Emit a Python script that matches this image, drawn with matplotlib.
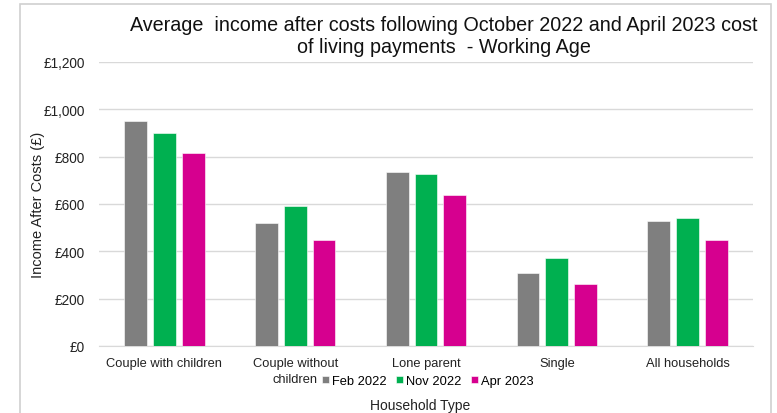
import matplotlib
matplotlib.use("Agg")
import matplotlib.pyplot as plt
import numpy as np
from matplotlib.patches import Rectangle
from matplotlib.ticker import FuncFormatter

categories = ["Couple with children", "Couple without\nchildren", "Lone parent", "Single", "All households"]
series_names = ["Feb 2022", "Nov 2022", "Apr 2023"]
feb_2022 = [950, 519, 735, 309, 529]
nov_2022 = [901, 591, 728, 372, 540]
apr_2023 = [814, 447, 637, 260, 447]
colors = ["#7F7F7F", "#00B050", "#D6008F"]

plt.rcParams['font.family'] = ['Liberation Sans', 'DejaVu Sans']

fig = plt.figure(figsize=(7.77, 4.14), dpi=100)
fig.patch.set_facecolor("white")
# outer chart frame
fig.add_artist(Rectangle((20/777, -0.05), 751/777, 1.038, transform=fig.transFigure,
                         fill=False, edgecolor="#D0D0D0", linewidth=1.2))

ax = fig.add_axes([99/777, 1 - 347/414, 654/777, 284/414])
x = np.arange(len(categories))
width = 0.175
step = 0.22
for i, (vals, c, name) in enumerate(zip([feb_2022, nov_2022, apr_2023], colors, series_names)):
    ax.bar(x + (i - 1) * step, vals, width, color=c, label=name, edgecolor="white", linewidth=0.4, zorder=3)

ax.set_xlim(-0.5, len(categories) - 0.5)
ax.set_ylim(0, 1200)
ax.set_yticks(np.arange(0, 1201, 200))
ax.yaxis.set_major_formatter(FuncFormatter(lambda v, p: "£{:,.0f}".format(v)))
ax.grid(axis="y", color="#D9D9D9", linewidth=1.0, zorder=0)
for s in ["top", "right", "left"]:
    ax.spines[s].set_visible(False)
ax.spines["bottom"].set_color("#D9D9D9")
ax.tick_params(axis="both", length=0, colors="#222222")
ax.tick_params(axis="y", pad=10, labelsize=9.8)
ax.tick_params(axis="x", pad=8, labelsize=9.3)
ax.set_xticks(x)
ax.set_xticklabels(categories, linespacing=1.45)
ax.set_ylabel("Income After Costs (£)", fontsize=10.5, color="#222222")
ax.yaxis.set_label_coords(-0.083, 0.5)

fig.text(444/777, 1 - 36.5/414,
         "Average  income after costs following October 2022 and April 2023 cost\nof living payments  - Working Age",
         ha="center", va="center", fontsize=14.2, color="#111111", linespacing=1.2)

leg = ax.legend(loc="center", bbox_to_anchor=(428/777, 1 - 382/414), bbox_transform=fig.transFigure,
                ncol=3, frameon=False, fontsize=9.3, handlelength=0.55, handleheight=0.55,
                handletextpad=0.25, columnspacing=0.7, borderpad=0.05, borderaxespad=0)
fig.text(420/777, 1 - 406/414, "Household Type", ha="center", va="center", fontsize=10, color="#222222")

fig.savefig("out.png", dpi=100, facecolor="white")
